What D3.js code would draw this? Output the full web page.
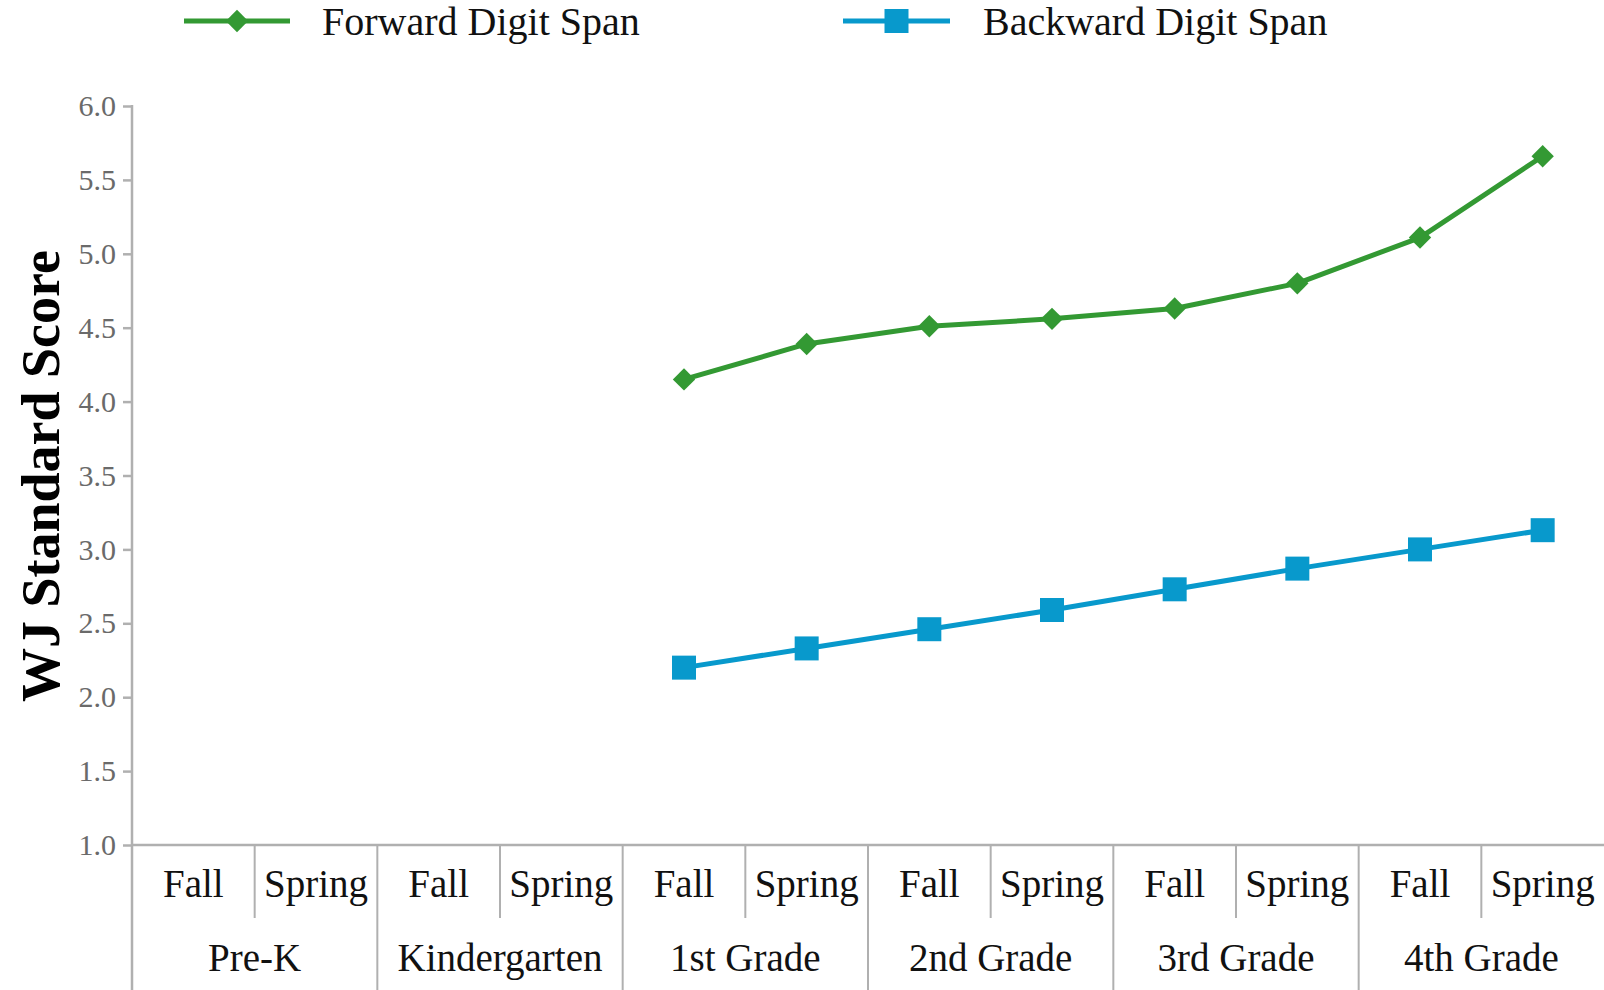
<!DOCTYPE html>
<html>
<head>
<meta charset="utf-8">
<script src="https://cdn.jsdelivr.net/npm/d3@7"></script>
<style>
  html, body { margin: 0; padding: 0; background: #fff; }
  svg { display: block; }
  text { font-family: "Liberation Serif", "Times New Roman", serif; }
</style>
</head>
<body>
<svg id="chart" width="1604" height="990"></svg>
<script>
// ---- data ----
const grades = ["Pre-K", "Kindergarten", "1st Grade", "2nd Grade", "3rd Grade", "4th Grade"];
const seasons = ["Fall", "Spring"];
const forwardSpan = [null, null, null, null, 4.15, 4.39, 4.51, 4.56, 4.63, 4.80, 5.11, 5.66];
const backwardSpan = [null, null, null, null, 2.20, 2.33, 2.46, 2.59, 2.73, 2.87, 3.00, 3.13];
const yTicks = [1.0, 1.5, 2.0, 2.5, 3.0, 3.5, 4.0, 4.5, 5.0, 5.5, 6.0];
const seriesNames = ["Forward Digit Span", "Backward Digit Span"];
const seriesColors = ["#339933", "#0899cc"];
const yTitle = "WJ Standard Score";

// ---- layout ----
const svg = d3.select("#chart");
const plotLeft = 132, plotRight = 1604, plotTop = 106, plotBottom = 845;
const axisColor = "#b0b0b0";

const xGroup = d3.scaleBand().domain(grades).range([plotLeft, plotRight]).paddingInner(0).paddingOuter(0);
const xSeason = d3.scaleBand().domain(seasons).range([0, xGroup.bandwidth()]);
const y = d3.scaleLinear().domain([1, 6]).range([plotBottom, plotTop]);

const points = [];
grades.forEach(g => seasons.forEach(s => points.push({ g, s })));
const xPos = i => xGroup(points[i].g) + xSeason(points[i].s) + xSeason.bandwidth() / 2;

// ---- y axis ----
const yAxis = d3.axisLeft(y).tickValues(yTicks).tickFormat(d3.format(".1f")).tickSize(9).tickPadding(7);
const yg = svg.append("g").attr("transform", `translate(${plotLeft},0)`).call(yAxis);
yg.select(".domain").remove();
yg.selectAll(".tick line").attr("stroke", axisColor).attr("stroke-width", 2.5);
yg.selectAll(".tick text").attr("fill", "#6a6a6a").style("font-size", "30px")
  .style("font-family", "'Liberation Serif', serif");

// vertical axis line extending through the category label area
svg.append("line").attr("x1", plotLeft).attr("x2", plotLeft).attr("y1", plotTop - 1).attr("y2", 990)
  .attr("stroke", axisColor).attr("stroke-width", 2.5);
// baseline
svg.append("line").attr("x1", plotLeft).attr("x2", plotRight).attr("y1", plotBottom).attr("y2", plotBottom)
  .attr("stroke", axisColor).attr("stroke-width", 2.5);

// ---- category axis (two level) ----
const cat = svg.append("g");
grades.forEach((g, gi) => {
  const gx = xGroup(g);
  if (gi > 0) {
    cat.append("line").attr("x1", gx).attr("x2", gx).attr("y1", plotBottom).attr("y2", 990)
      .attr("stroke", axisColor).attr("stroke-width", 2);
  }
  const midX = gx + xSeason("Spring");
  cat.append("line").attr("x1", midX).attr("x2", midX).attr("y1", plotBottom).attr("y2", 918)
    .attr("stroke", axisColor).attr("stroke-width", 2);
  seasons.forEach(s => {
    cat.append("text").attr("x", gx + xSeason(s) + xSeason.bandwidth() / 2).attr("y", 897)
      .attr("text-anchor", "middle").attr("fill", "#111").style("font-size", "39px").text(s);
  });
  cat.append("text").attr("x", gx + xGroup.bandwidth() / 2).attr("y", 971)
    .attr("text-anchor", "middle").attr("fill", "#111").style("font-size", "39px").text(g);
});

// ---- y title ----
svg.append("text").attr("transform", `translate(59,476) rotate(-90)`)
  .attr("text-anchor", "middle").attr("fill", "#000")
  .style("font-size", "54px").style("font-weight", "bold").text(yTitle);

// ---- series ----
const line = d3.line().defined(d => d.v != null).x(d => xPos(d.i)).y(d => y(d.v));
const diamond = d3.symbol().type(d3.symbolSquare).size(250);
const square = d3.symbol().type(d3.symbolSquare).size(576);

[forwardSpan, backwardSpan].forEach((vals, si) => {
  const data = vals.map((v, i) => ({ v, i }));
  svg.append("path").datum(data).attr("d", line).attr("fill", "none")
    .attr("stroke", seriesColors[si]).attr("stroke-width", 5).attr("stroke-linejoin", "round");
  svg.append("g").selectAll("path").data(data.filter(d => d.v != null)).join("path")
    .attr("d", si === 0 ? diamond : square)
    .attr("transform", d => `translate(${xPos(d.i)},${y(d.v)})` + (si === 0 ? " rotate(45)" : ""))
    .attr("fill", seriesColors[si]);
});

// ---- legend ----
const legendItems = [
  { x1: 184, x2: 290, tx: 322 },
  { x1: 843, x2: 950, tx: 983 }
];
legendItems.forEach((l, si) => {
  const g = svg.append("g");
  const ly = 21;
  g.append("line").attr("x1", l.x1).attr("x2", l.x2).attr("y1", ly).attr("y2", ly)
    .attr("stroke", seriesColors[si]).attr("stroke-width", 5);
  g.append("path").attr("d", si === 0 ? diamond() : square())
    .attr("transform", `translate(${(l.x1 + l.x2) / 2},${ly})` + (si === 0 ? " rotate(45)" : ""))
    .attr("fill", seriesColors[si]);
  g.append("text").attr("x", l.tx).attr("y", 35).attr("fill", "#111")
    .style("font-size", "40px").text(seriesNames[si]);
});
</script>
</body>
</html>
